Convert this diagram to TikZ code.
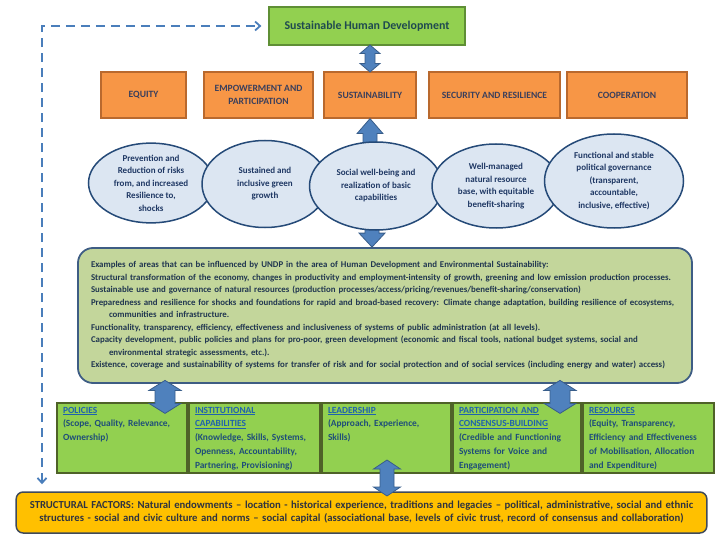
\documentclass[tikz,border=0pt]{standalone}
\usepackage{fontspec}
\setmainfont{Carlito}
\usetikzlibrary{positioning, calc, shapes.geometric, arrows.meta}

\definecolor{goalfill}{HTML}{92D050}
\definecolor{goalline}{HTML}{5F8F35}
\definecolor{goaltext}{HTML}{1F4A4F}
\definecolor{prinfill}{HTML}{F79646}
\definecolor{prinline}{HTML}{B9692E}
\definecolor{printext}{HTML}{3A3F5C}
\definecolor{outfill}{HTML}{DCE6F2}
\definecolor{outline}{HTML}{254A78}
\definecolor{outtext}{HTML}{1F3864}
\definecolor{areafill}{HTML}{C3D69B}
\definecolor{arealine}{HTML}{3E5D84}
\definecolor{areatext}{HTML}{203650}
\definecolor{pilline}{HTML}{4F6228}
\definecolor{hdrblue}{HTML}{1F62AE}
\definecolor{piltext}{HTML}{1F4E79}
\definecolor{factfill}{HTML}{FFC000}
\definecolor{factline}{HTML}{3F4A5A}
\definecolor{facttext}{HTML}{2F3340}
\definecolor{arrowfill}{HTML}{4F81BD}
\definecolor{arrowline}{HTML}{385D8A}
\definecolor{dashblue}{HTML}{4A7EBB}

\newcommand{\hdr}[1]{{\color{hdrblue}\underline{#1}}}
% block arrow pointing both ways: centre, half length, half head, half shaft, head length
\newcommand{\dblarrow}[5]{%
	\draw[blockarrow] ($(#1)+(0,-#2)$) -- ++(#3,#5) -- ++(-#3+#4,0) -- ++(0,2*#2-2*#5) -- ++(#3-#4,0) -- ++(-#3,#5)
		-- ++(-#3,-#5) -- ++(#3-#4,0) -- ++(0,-2*#2+2*#5) -- ++(-#3+#4,0) -- cycle;}
% block arrow pointing one way: tip, length, half head, half shaft, head length, rotation
\newcommand{\sglarrow}[6]{%
	\draw[blockarrow, shift={(#1)}, rotate=#6] (0,0) -- (#3,#5) -- (#4,#5) -- (#4,#2) -- (-#4,#2) -- (-#4,#5) -- (-#3,#5) -- cycle;}

\begin{document}
\begin{tikzpicture}[x=1pt, y=-1pt,
	goal/.style={draw=goalline, fill=goalfill, line width=1.2pt, minimum width=196pt, minimum height=38pt, text=goaltext, font=\fontsize{11.9}{14}\selectfont\bfseries},
	principle/.style={draw=prinline, fill=prinfill, line width=1.2pt, minimum height=46pt, align=center, text=printext, font=\fontsize{9.6}{13.5}\selectfont\bfseries},
	outcome/.style={ellipse, draw=outline, fill=outfill, line width=1.5pt, inner sep=0pt, align=center, text=outtext, font=\fontsize{9}{12.5}\selectfont\bfseries},
	areas/.style={draw=arealine, fill=areafill, line width=1.8pt, rounded corners=15pt, minimum width=614pt, minimum height=135pt, text width=588pt, inner xsep=13pt, align=left, text=areatext, font=\fontsize{8.85}{12.5}\selectfont\bfseries},
	pillar/.style={draw=pilline, fill=goalfill, line width=2pt, anchor=north west, text width=#1, inner xsep=6pt, inner ysep=3pt, text height=7pt, text depth=57pt, align=left, text=piltext, font=\fontsize{9.4}{13.8}\selectfont\bfseries},
	factors/.style={draw=factline, fill=factfill, line width=1.5pt, rounded corners=7pt, minimum width=689pt, minimum height=41pt, text width=684pt, align=center, text=facttext, font=\fontsize{10.7}{13}\selectfont\bfseries},
	blockarrow/.style={draw=arrowline, fill=arrowfill, line width=0.8pt, line join=miter},
	dashlink/.style={draw=dashblue, line width=1.8pt, dash pattern=on 9pt off 6pt, {Straight Barb[length=5pt,width=9pt]}-{Straight Barb[length=5pt,width=9pt]}, shorten <=7pt, shorten >=7pt}
	]
	\useasboundingbox (0,0) rectangle (720,540);

	% goal and principles
	\node[goal] (goal) at (367,26) {Sustainable Human Development};

	\node[principle, minimum width=85pt] (equity) at (143.5,95) {EQUITY};
	\node[principle, minimum width=109pt] (empower) at (258.5,95) {EMPOWERMENT AND\\PARTICIPATION};
	\node[principle, minimum width=92pt] (sustain) at (370,95) {SUSTAINABILITY};
	\node[principle, minimum width=131pt] (security) at (494.5,95) {SECURITY AND RESILIENCE};
	\node[principle, minimum width=120pt] (coop) at (627,95) {COOPERATION};

	% areas box
	\node[areas] (areas) at (385,315.5) {Examples of areas that can be influenced by UNDP in the area of Human Development and Environmental Sustainability:\\
Structural transformation of the economy, changes in productivity and employment-intensity of growth, greening and low emission production processes.\\
Sustainable use and governance of natural resources (production processes/access/pricing/revenues/benefit-sharing/conservation)\\
Preparedness and resilience for shocks and foundations for rapid and broad-based recovery: Climate change adaptation, building resilience of ecosystems,\\
\hspace*{18pt}communities and infrastructure.\\
Functionality, transparency, efficiency, effectiveness and inclusiveness of systems of public administration (at all levels).\\
Capacity development, public policies and plans for pro-poor, green development (economic and fiscal tools, national budget systems, social and\\
\hspace*{18pt}environmental strategic assessments, etc.).\\
Existence, coverage and sustainability of systems for transfer of risk and for social protection and of social services (including energy and water) access)};

	% arrows round the outcomes
	\coordinate (goalmid) at ($(goal.south -| sustain.north)!0.5!(sustain.north)$);
	\dblarrow{goalmid}{13.5}{10}{5}{8.5}
	\sglarrow{sustain.south}{32}{13}{7}{15}{0}
	\coordinate (areatop) at (areas.north -| 372,0);
	\sglarrow{areatop}{22}{13}{7}{14}{180}

	% outcomes
	\node[outcome, minimum width=125pt, minimum height=79pt] (prevention) at (151,183) {Prevention and\\Reduction of risks\\from, and increased\\Resilience to,\\shocks};
	\node[outcome, minimum width=126pt, minimum height=87pt] (growth) at (265,184) {Sustained and\\inclusive green\\growth};
	\node[outcome, minimum width=133pt, minimum height=88pt] (wellbeing) at (376,186) {Social well-being and\\realization of basic\\capabilities};
	\node[outcome, minimum width=128pt, minimum height=84pt] (resource) at (496,186) {Well-managed\\natural resource\\base, with equitable\\benefit-sharing};
	\node[outcome, minimum width=139pt, minimum height=94pt] (governance) at (614,181) {Functional and stable\\political governance\\(transparent,\\accountable,\\inclusive, effective)};

	% pillars
	\node[pillar=118pt] (policies) at (56,402) {\hdr{POLICIES}\\ (Scope, Quality, Relevance,\\Ownership)};
	\node[pillar=119pt] (capab) at (policies.north east) {\hdr{INSTITUTIONAL}\\\hdr{CAPABILITIES}\\(Knowledge, Skills, Systems,\\Openness, Accountability,\\Partnering, Provisioning)};
	\node[pillar=117pt] (leader) at (capab.north east) {\hdr{LEADERSHIP}\\(Approach, Experience,\\Skills)};
	\node[pillar=116pt] (partic) at (leader.north east) {\hdr{PARTICIPATION AND}\\\hdr{CONSENSUS-BUILDING}\\(Credible and Functioning\\Systems for Voice and\\Engagement)};
	\node[pillar=119pt] (resources) at (partic.north east) {\hdr{RESOURCES}\\(Equity, Transparency,\\Efficiency and Effectiveness\\of Mobilisation, Allocation\\and Expenditure)};

	% structural factors
	\node[factors] (factors) at (361.5,512.5) {STRUCTURAL FACTORS: Natural endowments -- location - historical experience, traditions and legacies -- political, administrative, social and ethnic\\structures - social and civic culture and norms -- social capital (associational base, levels of civic trust, record of consensus and collaboration)};

	\coordinate (leftmid) at (areas.south -| 165,0);
	\coordinate (rightmid) at (areas.south -| 560,0);
	\dblarrow{$(leftmid)+(0,13)$}{16.5}{16}{10}{10}
	\dblarrow{$(rightmid)+(0,13)$}{16.5}{16}{10}{10}
	\coordinate (basemid) at ($(leader.south -| 387,0)+(0,4)$);
	\dblarrow{basemid}{18}{13.5}{7}{9}

	% feedback link
	\coordinate (bend) at (42,26);
	\draw[dashlink] (factors.north -| bend) -- (bend) -- (goal.west);
\end{tikzpicture}
\end{document}
